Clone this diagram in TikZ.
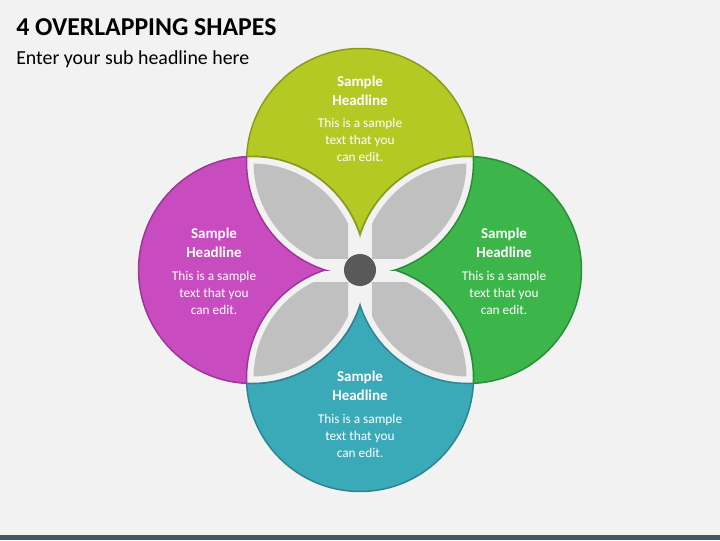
\documentclass[tikz,border=0pt]{standalone}
\usepackage{fontspec}
\setmainfont{Carlito}
\definecolor{bgcol}{HTML}{F2F2F2}
\definecolor{barcol}{HTML}{44546A}
\definecolor{topcol}{HTML}{B5C924}
\definecolor{topdark}{HTML}{8A9C16}
\definecolor{rightcol}{HTML}{3CB54A}
\definecolor{rightdark}{HTML}{2B8C37}
\definecolor{botcol}{HTML}{3AAAB9}
\definecolor{botdark}{HTML}{2A8591}
\definecolor{leftcol}{HTML}{C84BC0}
\definecolor{leftdark}{HTML}{9E3598}
\definecolor{petalcol}{HTML}{C0C0C0}
\definecolor{dotcol}{HTML}{595959}

\begin{document}
\begin{tikzpicture}[x=0.75pt,y=0.75pt]
\tikzstyle{head} = [text=white, font=\fontsize{11.25}{14.25}\selectfont\bfseries, align=center, inner sep=0pt]
\tikzstyle{body} = [text=white, font=\fontsize{10}{12.75}\selectfont, align=center, inner sep=0pt]
\tikzstyle{edge} = [line width=1.1pt]
\tikzstyle{gap} = [fill=bgcol]
\tikzstyle{petal} = [fill=petalcol]

    % page and footer bar
    \fill[bgcol] (0,0) rectangle (720,540);
    \useasboundingbox (0,0) rectangle (720,540);
    \fill[barcol] (0,0) rectangle (720,5);

    \node (title) [anchor=base west, inner sep=0pt, font=\fontsize{19.3}{23}\selectfont\bfseries] at (16,504) {4 OVERLAPPING SHAPES};
    \node (subtitle) [anchor=base west, inner sep=0pt, font=\fontsize{14.9}{18}\selectfont] at (16,475) {Enter your sub headline here};

    \coordinate (cTop) at (360,378);
    \coordinate (cRight) at (468,270);
    \coordinate (cBot) at (360,162);
    \coordinate (cLeft) at (252,270);
    \coordinate (mid) at (360,270);

    % the four circles
    \filldraw[fill=topcol, draw=topdark, edge] (cTop) circle[radius=85.125pt];
    \filldraw[fill=rightcol, draw=rightdark, edge] (cRight) circle[radius=85.125pt];
    \filldraw[fill=botcol, draw=botdark, edge] (cBot) circle[radius=85.125pt];
    \filldraw[fill=leftcol, draw=leftdark, edge] (cLeft) circle[radius=85.125pt];

    % overlaps cut out
    \begin{scope} \clip (cTop) circle[radius=85.125pt]; \fill[gap] (cLeft) circle[radius=85.125pt]; \fill[gap] (cRight) circle[radius=85.125pt]; \end{scope}
    \begin{scope} \clip (cBot) circle[radius=85.125pt]; \fill[gap] (cLeft) circle[radius=85.125pt]; \fill[gap] (cRight) circle[radius=85.125pt]; \end{scope}

    % inner edges, each kept to its quarter
    \begin{scope} \clip (0,270) rectangle (360,540); \clip (cTop) circle[radius=85.125pt]; \draw[topdark, edge] (cLeft) circle[radius=85.125pt]; \end{scope}
    \begin{scope} \clip (360,270) rectangle (720,540); \clip (cTop) circle[radius=85.125pt]; \draw[topdark, edge] (cRight) circle[radius=85.125pt]; \end{scope}
    \begin{scope} \clip (0,0) rectangle (360,270); \clip (cBot) circle[radius=85.125pt]; \draw[botdark, edge] (cLeft) circle[radius=85.125pt]; \end{scope}
    \begin{scope} \clip (360,0) rectangle (720,270); \clip (cBot) circle[radius=85.125pt]; \draw[botdark, edge] (cRight) circle[radius=85.125pt]; \end{scope}
    \begin{scope} \clip (0,270) rectangle (360,540); \clip (cLeft) circle[radius=85.125pt]; \draw[leftdark, edge] (cTop) circle[radius=85.125pt]; \end{scope}
    \begin{scope} \clip (0,0) rectangle (360,270); \clip (cLeft) circle[radius=85.125pt]; \draw[leftdark, edge] (cBot) circle[radius=85.125pt]; \end{scope}
    \begin{scope} \clip (360,270) rectangle (720,540); \clip (cRight) circle[radius=85.125pt]; \draw[rightdark, edge] (cTop) circle[radius=85.125pt]; \end{scope}
    \begin{scope} \clip (360,0) rectangle (720,270); \clip (cRight) circle[radius=85.125pt]; \draw[rightdark, edge] (cBot) circle[radius=85.125pt]; \end{scope}

    % gray petals
    \begin{scope} \clip (0,282) rectangle (348,540); \clip (cTop) circle[radius=79.875pt]; \fill[petal] (cLeft) circle[radius=79.875pt]; \end{scope}
    \begin{scope} \clip (372,282) rectangle (720,540); \clip (cTop) circle[radius=79.875pt]; \fill[petal] (cRight) circle[radius=79.875pt]; \end{scope}
    \begin{scope} \clip (0,0) rectangle (348,258); \clip (cBot) circle[radius=79.875pt]; \fill[petal] (cLeft) circle[radius=79.875pt]; \end{scope}
    \begin{scope} \clip (372,0) rectangle (720,258); \clip (cBot) circle[radius=79.875pt]; \fill[petal] (cRight) circle[radius=79.875pt]; \end{scope}

    \fill[dotcol] (mid) circle[radius=12pt];

    % texts
    \node (headTop) [head] at (360,449.5) {Sample\\Headline};
    \node (textTop) [body] at (360,400) {This is a sample\\text that you\\can edit.};
    \node (headLeft) [head] at (214,297) {Sample\\Headline};
    \node (textLeft) [body] at (214,247) {This is a sample\\text that you\\can edit.};
    \node (headRight) [head] at (504,297) {Sample\\Headline};
    \node (textRight) [body] at (504,247) {This is a sample\\text that you\\can edit.};
    \node (headBot) [head] at (360,154) {Sample\\Headline};
    \node (textBot) [body] at (360,104) {This is a sample\\text that you\\can edit.};
\end{tikzpicture}
\end{document}
